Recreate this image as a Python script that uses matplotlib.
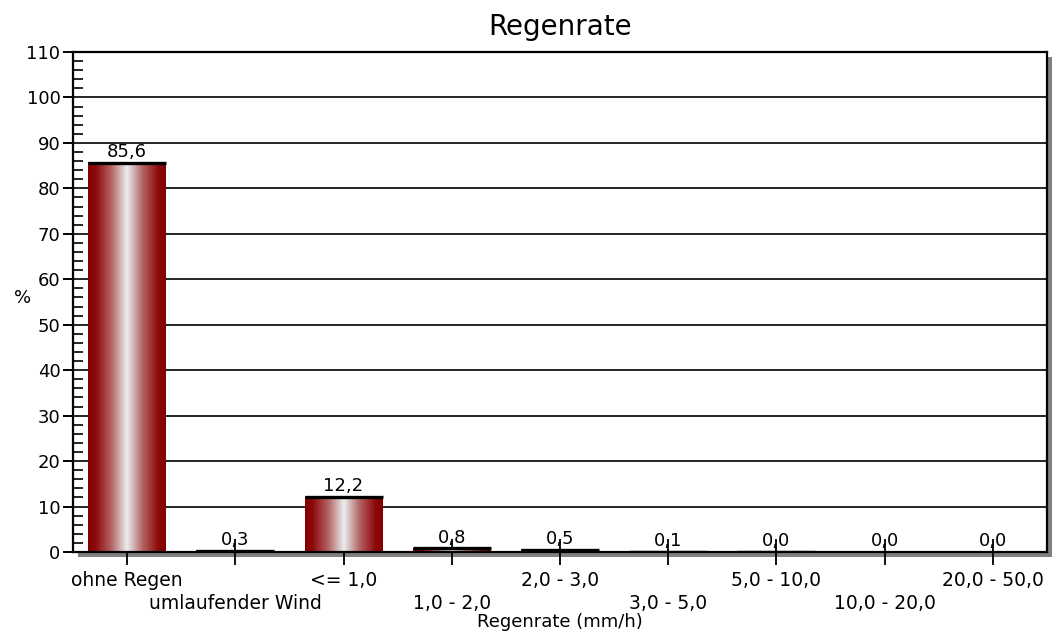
import numpy as np
import matplotlib
matplotlib.use("Agg")
import matplotlib.pyplot as plt
from matplotlib.colors import LinearSegmentedColormap
from matplotlib.patches import Rectangle

# data
categories = ["ohne Regen", "umlaufender Wind", "<= 1,0", "1,0 - 2,0", "2,0 - 3,0",
              "3,0 - 5,0", "5,0 - 10,0", "10,0 - 20,0", "20,0 - 50,0"]
values = [85.6, 0.3, 12.2, 0.8, 0.5, 0.1, 0.04, 0.0, 0.0]

W, H = 1054, 640
fig = plt.figure(figsize=(W / 100, H / 100), dpi=100)
fig.patch.set_facecolor("white")

# plot area in pixels
L, R, T, B = 73, 1047, 52, 552
ax = fig.add_axes([L / W, 1 - B / H, (R - L) / W, (B - T) / H])
ax.set_facecolor("white")
ax.set_zorder(2)

# grey drop shadow behind the frame
fig.patches.append(Rectangle(((L + 5) / W, 1 - (B + 5) / H), (R - L) / W, (B - T) / H,
                             transform=fig.transFigure, facecolor="#808080",
                             edgecolor="none", zorder=0))

cmap = LinearSegmentedColormap.from_list(
    "bar", [(0.0, "#820000"), (0.1, "#8e0a0a"), (0.3, "#b46464"), (0.44, "#d8c6c6"),
            (0.5, "#ececec"), (0.56, "#d8c6c6"), (0.7, "#b46464"), (0.9, "#8e0a0a"),
            (1.0, "#820000")])
grad = np.linspace(0, 1, 256).reshape(1, -1)

x = np.arange(len(categories))
bw = 0.72
for xi, v in zip(x, values):
    if v > 0:
        ax.imshow(grad, cmap=cmap, aspect="auto", extent=[xi - bw / 2, xi + bw / 2, 0, v],
                  zorder=3, interpolation="bicubic")
        ax.plot([xi - bw / 2, xi + bw / 2], [v, v], color="black", lw=2.4, zorder=7,
                solid_capstyle="butt")
    ax.text(xi, v + 0.4, f"{v:.1f}".replace(".", ","), ha="center", va="bottom",
            fontsize=13, zorder=5)

ax.set_xlim(-0.5, len(categories) - 0.5)
ax.set_ylim(0, 110)
ax.set_yticks(np.arange(0, 111, 10))
ax.set_yticks(np.arange(0, 111, 2), minor=True)
ax.yaxis.grid(True, which="major", color="black", lw=1.2, zorder=1)
ax.set_axisbelow(True)

ax.set_xticks(x)
ax.set_xticklabels(categories, fontsize=13.5)
ax.tick_params(axis="x", direction="inout", length=19, width=1.3, pad=4)
ax.tick_params(axis="y", which="major", direction="out", length=7, width=1.4, labelsize=13, pad=2)
ax.tick_params(axis="y", which="minor", direction="in", length=7.5, width=1.2)
# every second label goes to a lower row
for i, tick in enumerate(ax.xaxis.get_major_ticks()):
    tick.tick1line.set_zorder(6)
    if i % 2 == 1:
        tick.set_pad(21)

for s in ax.spines.values():
    s.set_linewidth(1.6)
    s.set_zorder(6)

ax.set_title("Regenrate", fontsize=20, pad=12)
ax.set_xlabel("Regenrate (mm/h)", fontsize=13, labelpad=0)
ax.set_ylabel("%", fontsize=13, rotation=0)
ax.yaxis.set_label_coords(-0.052, 0.49)

fig.savefig("out.png", dpi=100)
